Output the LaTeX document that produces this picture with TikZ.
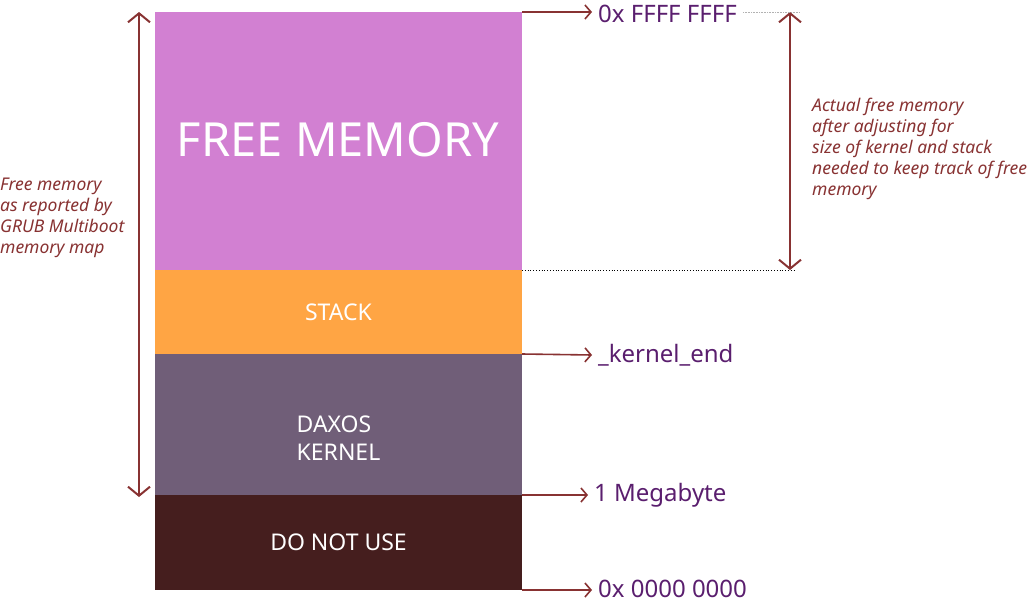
\documentclass[tikz,border=0pt]{standalone}
\usepackage{fontspec}
\setmainfont{Noto Sans}
\usepackage{tikz}
\usetikzlibrary{positioning,arrows.meta}

\definecolor{freecol}{RGB}{210,128,210}
\definecolor{stackcol}{RGB}{255,165,68}
\definecolor{kernelcol}{RGB}{112,94,120}
\definecolor{dnucol}{RGB}{69,30,30}
\definecolor{ptrcol}{RGB}{136,50,50}
\definecolor{addrcol}{RGB}{90,30,110}

\begin{document}
\begin{tikzpicture}[x=1pt,y=-1pt,
  membox/.style={minimum width=367pt,inner sep=0pt,outer sep=0pt,text=white,font=\fontsize{23}{28}\selectfont},
  ptr/.style={draw=ptrcol,line width=1.6pt,-{Straight Barb[length=6pt,width=14pt]}},
  span/.style={draw=ptrcol,line width=2pt,{Straight Barb[length=9pt,width=22pt]}-{Straight Barb[length=9pt,width=22pt]}},
  addr/.style={anchor=west,inner xsep=6pt,inner ysep=0pt,text=addrcol,font=\fontsize{24}{26}\selectfont},
  note/.style={anchor=north west,inner sep=0pt,align=left,text=ptrcol,font=\fontsize{17.5}{21}\selectfont\itshape}]
\useasboundingbox (0,0) rectangle (1034,616);
% memory blocks
\node[membox,fill=freecol,minimum height=258pt,anchor=north west] (free) at (155,12) {};
\node[membox,fill=stackcol,minimum height=84pt,below=0pt of free] (stack) {STACK};
\node[membox,fill=kernelcol,minimum height=141pt,below=0pt of stack] (kernel) {};
\node[membox,fill=dnucol,minimum height=95pt,below=0pt of kernel] (dnu) {DO NOT USE};
\node[text=white,font=\fontsize{47}{52}\selectfont] (freelbl) at (338,140) {FREE MEMORY};
\node[text=white,align=left,font=\fontsize{23}{28}\selectfont,yshift=-14pt] (kernellbl) at (kernel.center) {DAXOS\\KERNEL};
% addresses
\node[addr] (atop) at (592,14) {0x FFFF FFFF};
\node[addr] (akend) at (592,355) {\_kernel\_end};
\node[addr] (amb) at (588,495) {1 Megabyte};
\node[addr] (azero) at (592,589) {0x 0000 0000};
\draw[ptr] (free.north east) -- (atop.west |- free.north east);
\draw[ptr] (kernel.north east) -- (akend.west);
\draw[ptr] (dnu.north east) -- (amb.west);
\draw[ptr] (dnu.south east) -- (azero.west |- dnu.south east);
% spans
\coordinate (ltop) at (139,12);
\coordinate (lbot) at (139,497);
\draw[span] (ltop) -- (lbot);
\coordinate (rtop) at (790,12);
\coordinate (rbot) at (790,270);
\draw[span] (rtop) -- (rbot);
\draw[black,dotted,line width=0.8pt] (free.south east) -- (rbot -| 795,0);
\draw[gray!60,densely dotted,line width=0.6pt] (atop.east |- rtop) -- (rtop -| 800,0);
% notes
\node[note] (lnote) at (0,178) {Free memory\\as reported by\\GRUB Multiboot\\memory map};
\node[note] (rnote) at (812,98) {Actual free memory\\after adjusting for\\size of kernel and stack\\needed to keep track of free\\memory};
\end{tikzpicture}
\end{document}
